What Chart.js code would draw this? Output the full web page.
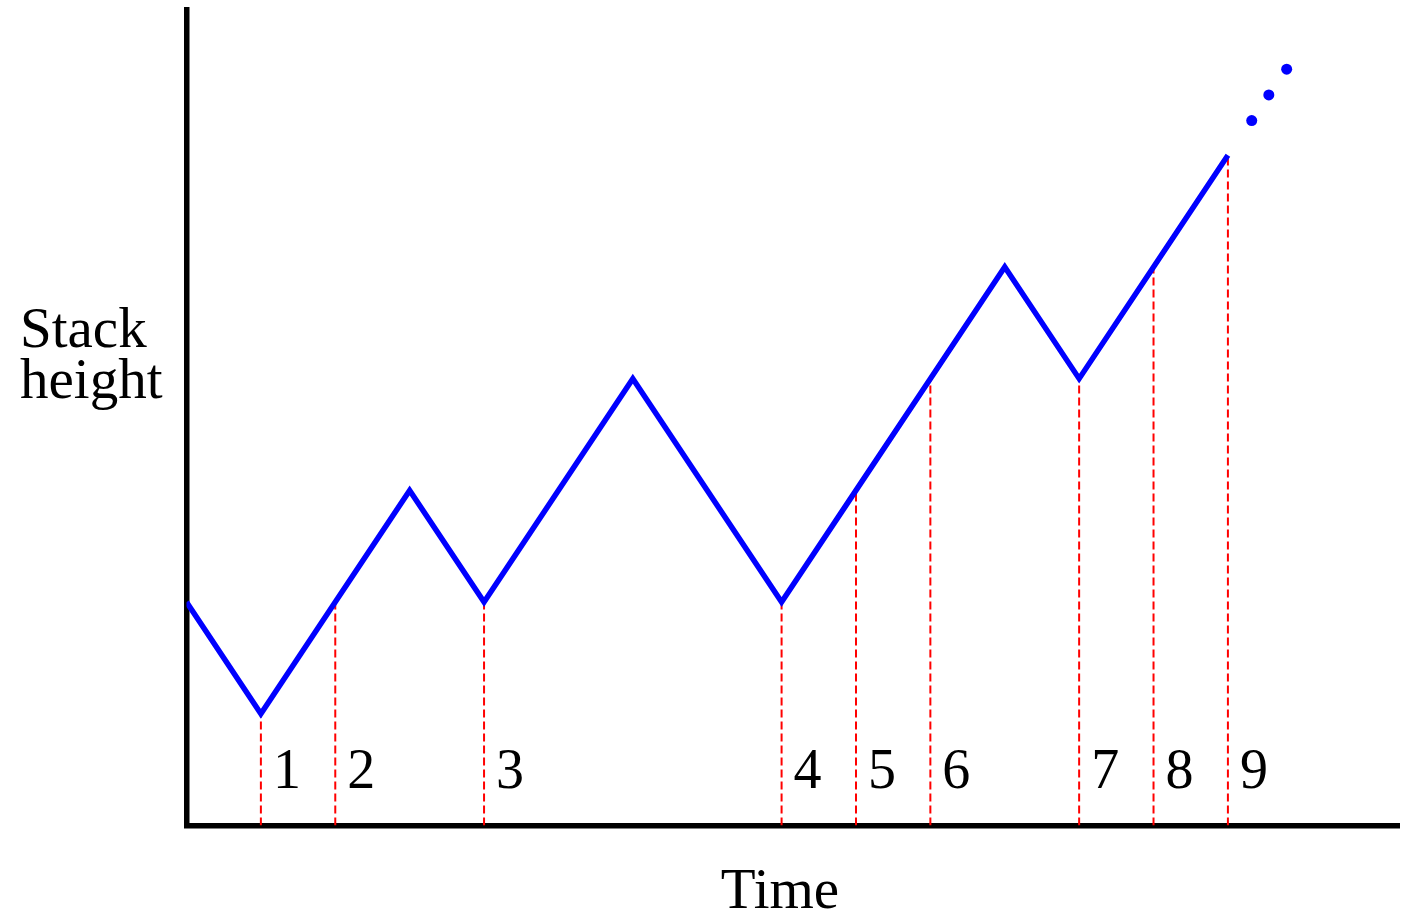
<!DOCTYPE html>
<html><head><meta charset="utf-8">
<script src="https://cdn.jsdelivr.net/npm/chart.js@4.4.0/dist/chart.umd.min.js"></script>
<style>html,body{margin:0;padding:0;background:#fff;}canvas{display:block;}</style>
</head><body>
<canvas id="c" width="1401" height="916"></canvas>
<script>
// ---- data ----
const timeSteps = [0,1,2,3,4,6,8,9,10,11,12,13,14];
const stackHeights = [2,1,2,3,2,4,2,3,4,5,4,5,6];
const continuationX = [14.32,14.55,14.79];
const continuationY = [6.31,6.54,6.77];
const markerTimes = [1,2,4,8,9,10,12,13,14];
const markerLabels = ['1','2','3','4','5','6','7','8','9'];
const yAxisLabel = ['Stack','height'];
const xAxisLabel = 'Time';
const xMax = 16.3, yMax = 7.3;

const SERIF = "'Liberation Serif', 'Times New Roman', serif";

const linePts = timeSteps.map((t,i)=>({x:t,y:stackHeights[i]}));
const dotPts = continuationX.map((x,i)=>({x:x,y:continuationY[i]}));
const heightAt = t => stackHeights[timeSteps.indexOf(t)];
const dashPts = [];
markerTimes.forEach(t=>{
  dashPts.push({x:t,y:0},{x:t,y:heightAt(t)},{x:t,y:null});
});

const textPlugin = {
  id:'texts',
  afterDraw(chart){
    const ctx = chart.ctx, xs = chart.scales.x;
    ctx.save();
    ctx.fillStyle = '#000';
    ctx.textBaseline = 'alphabetic';
    ctx.textAlign = 'center';
    ctx.font = '56px ' + SERIF;
    markerTimes.forEach((t,i)=>{
      ctx.fillText(markerLabels[i], xs.getPixelForValue(t) + 26, 788);
    });
    ctx.font = '57px ' + SERIF;
    ctx.textAlign = 'left';
    ctx.fillText(yAxisLabel[0], 20, 347);
    ctx.fillText(yAxisLabel[1], 20, 398);
    ctx.textAlign = 'center';
    ctx.fillText(xAxisLabel, 780, 908);
    ctx.restore();
  }
};

new Chart(document.getElementById('c'), {
  type:'scatter',
  data:{datasets:[
    {data:linePts, showLine:true, borderColor:'#0000ff', borderWidth:5.5, pointRadius:0,
     borderJoinStyle:'miter', borderCapStyle:'butt', tension:0},
    {data:dotPts, showLine:false, pointRadius:5.5, pointBackgroundColor:'#0000ff', pointBorderWidth:0, borderColor:'#0000ff'},
    {data:dashPts, showLine:true, spanGaps:false, borderColor:'#ff0000', borderWidth:2, borderDash:[8,4], pointRadius:0}
  ]},
  options:{
    responsive:false, animation:false, devicePixelRatio:1,
    layout:{autoPadding:false, padding:{left:186.5, right:2, top:10, bottom:90.5}},
    plugins:{legend:{display:false}, tooltip:{enabled:false}},
    scales:{
      x:{type:'linear', min:0, max:xMax, ticks:{display:false}, grid:{display:false, drawTicks:false},
         border:{display:true, color:'#000', width:5.5},
         afterFit:s=>{s.height=0;}},
      y:{type:'linear', min:0, max:yMax, ticks:{display:false}, grid:{display:false, drawTicks:false},
         border:{display:true, color:'#000', width:5.5},
         afterFit:s=>{s.width=0;}}
    }
  },
  plugins:[textPlugin]
});
</script>
</body></html>
